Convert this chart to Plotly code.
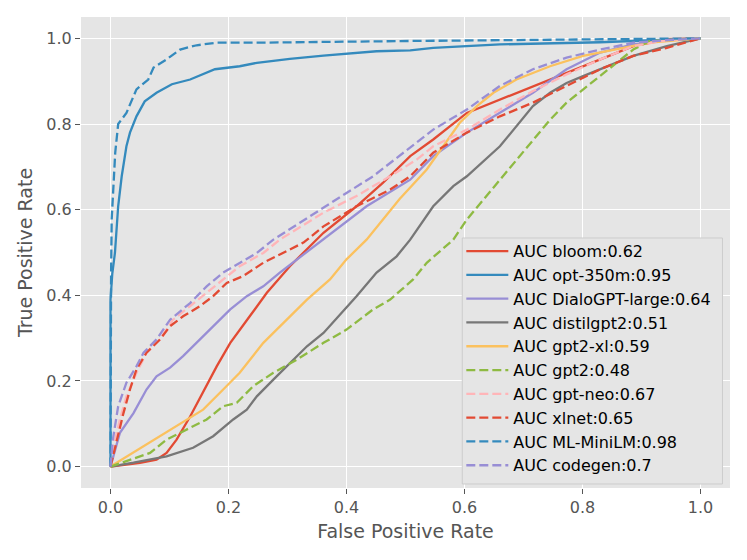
import plotly.graph_objects as go

# ROC curves (fpr, tpr)
names = ["bloom", "opt-350m", "DialoGPT-large", "distilgpt2", "gpt2-xl",
         "gpt2", "gpt-neo", "xlnet", "ML-MiniLM", "codegen"]
aucs = ["0.62", "0.95", "0.64", "0.51", "0.59", "0.48", "0.67", "0.65", "0.98", "0.7"]

bloom_fpr = [0, 0.05, 0.078, 0.095, 0.112, 0.129, 0.135, 0.18, 0.203, 0.236, 0.265, 0.304,
             0.361, 0.417, 0.462, 0.508, 0.547, 0.604, 0.66, 0.716, 0.773, 0.813, 0.886, 0.943, 1.0]
bloom_tpr = [0, 0.009, 0.016, 0.032, 0.063, 0.102, 0.117, 0.234, 0.289, 0.351, 0.406, 0.468,
             0.546, 0.608, 0.663, 0.725, 0.764, 0.826, 0.857, 0.889, 0.919, 0.943, 0.982, 0.998, 1.0]

opt_fpr = [0, 0, 0.003, 0.0076, 0.013, 0.019, 0.027, 0.033, 0.044, 0.058, 0.078, 0.104,
           0.135, 0.177, 0.219, 0.248, 0.304, 0.361, 0.451, 0.508, 0.547, 0.66, 0.83, 1.0]
opt_tpr = [0, 0.39, 0.45, 0.5, 0.608, 0.678, 0.748, 0.78, 0.818, 0.853, 0.873, 0.893,
           0.904, 0.928, 0.935, 0.943, 0.952, 0.96, 0.97, 0.972, 0.978, 0.986, 0.991, 1.0]

dialo_fpr = [0, 0.016, 0.039, 0.061, 0.078, 0.101, 0.123, 0.152, 0.18, 0.203, 0.231, 0.259,
             0.287, 0.316, 0.361, 0.434, 0.508, 0.547, 0.604, 0.66, 0.716, 0.773, 0.83, 0.886, 0.943, 1.0]
dialo_tpr = [0, 0.079, 0.125, 0.18, 0.211, 0.231, 0.258, 0.297, 0.336, 0.367, 0.398, 0.421,
             0.453, 0.484, 0.53, 0.608, 0.67, 0.725, 0.78, 0.826, 0.873, 0.928, 0.967, 0.986, 0.996, 1.0]

distil_fpr = [0, 0.039, 0.095, 0.14, 0.174, 0.208, 0.231, 0.248, 0.276, 0.304, 0.333, 0.361,
              0.395, 0.417, 0.451, 0.485, 0.508, 0.547, 0.581, 0.604, 0.66, 0.688, 0.716, 0.745,
              0.773, 0.801, 0.83, 0.886, 0.943, 1.0]
distil_tpr = [0, 0.009, 0.024, 0.044, 0.071, 0.11, 0.133, 0.164, 0.203, 0.242, 0.281, 0.312,
              0.363, 0.398, 0.453, 0.491, 0.53, 0.608, 0.655, 0.678, 0.748, 0.795, 0.842, 0.873,
              0.896, 0.912, 0.928, 0.959, 0.982, 1.0]

xl_fpr = [0, 0.05, 0.101, 0.129, 0.157, 0.191, 0.219, 0.259, 0.293, 0.333, 0.372, 0.4, 0.434,
          0.49, 0.536, 0.564, 0.592, 0.621, 0.649, 0.688, 0.745, 0.801, 0.858, 0.914, 1.0]
xl_tpr = [0, 0.043, 0.086, 0.11, 0.133, 0.18, 0.219, 0.289, 0.336, 0.39, 0.437, 0.484, 0.53,
          0.625, 0.694, 0.748, 0.803, 0.842, 0.873, 0.904, 0.935, 0.959, 0.974, 0.99, 1.0]

gpt2_fpr = [0, 0.033, 0.067, 0.095, 0.129, 0.163, 0.191, 0.214, 0.242, 0.276, 0.316, 0.361,
            0.4, 0.445, 0.474, 0.513, 0.536, 0.581, 0.604, 0.66, 0.716, 0.745, 0.773, 0.801,
            0.83, 0.858, 0.886, 0.914, 1.0]
gpt2_tpr = [0, 0.016, 0.032, 0.063, 0.086, 0.11, 0.141, 0.149, 0.188, 0.219, 0.25, 0.289,
            0.32, 0.367, 0.39, 0.437, 0.476, 0.53, 0.577, 0.67, 0.764, 0.81, 0.85, 0.881,
            0.912, 0.943, 0.974, 0.994, 1.0]

neo_fpr = [0, 0.005, 0.016, 0.027, 0.044, 0.061, 0.084, 0.106, 0.135, 0.163, 0.191, 0.219,
           0.259, 0.287, 0.361, 0.417, 0.474, 0.519, 0.547, 0.604, 0.66, 0.716, 0.773, 0.83,
           0.886, 0.943, 1.0]
neo_tpr = [0, 0.047, 0.11, 0.164, 0.219, 0.266, 0.297, 0.343, 0.375, 0.406, 0.437, 0.468,
           0.499, 0.53, 0.593, 0.632, 0.678, 0.717, 0.748, 0.787, 0.834, 0.877, 0.916, 0.951,
           0.982, 0.996, 1.0]

xlnet_fpr = [0, 0.0105, 0.022, 0.033, 0.044, 0.061, 0.084, 0.101, 0.123, 0.152, 0.174, 0.197,
             0.225, 0.259, 0.293, 0.327, 0.361, 0.417, 0.474, 0.508, 0.547, 0.604, 0.66, 0.716,
             0.773, 0.83, 0.886, 0.943, 1.0]
xlnet_tpr = [0, 0.063, 0.125, 0.18, 0.227, 0.266, 0.297, 0.328, 0.351, 0.375, 0.398, 0.429,
             0.445, 0.476, 0.499, 0.523, 0.561, 0.608, 0.647, 0.678, 0.733, 0.78, 0.818, 0.85,
             0.889, 0.928, 0.959, 0.978, 1.0]

mini_fpr = [0, 0, 0.001, 0.002, 0.008, 0.013, 0.027, 0.044, 0.064, 0.073, 0.095, 0.118,
            0.146, 0.18, 0.248, 0.508, 0.66, 1.0]
mini_tpr = [0, 0.3, 0.45, 0.577, 0.733, 0.8, 0.826, 0.881, 0.904, 0.932, 0.951, 0.974,
            0.984, 0.99, 0.99, 0.994, 0.996, 1.0]

codegen_fpr = [0, 0.004, 0.013, 0.027, 0.044, 0.056, 0.078, 0.101, 0.135, 0.163, 0.191, 0.219,
               0.248, 0.276, 0.349, 0.4, 0.445, 0.508, 0.547, 0.604, 0.66, 0.716, 0.773, 0.83,
               0.886, 0.943, 1.0]
codegen_tpr = [0, 0.063, 0.141, 0.196, 0.234, 0.266, 0.297, 0.343, 0.382, 0.421, 0.453, 0.476,
               0.499, 0.53, 0.593, 0.639, 0.678, 0.745, 0.787, 0.834, 0.889, 0.928, 0.955, 0.974,
               0.99, 0.996, 1.0]

curves = [(bloom_fpr, bloom_tpr), (opt_fpr, opt_tpr), (dialo_fpr, dialo_tpr),
          (distil_fpr, distil_tpr), (xl_fpr, xl_tpr), (gpt2_fpr, gpt2_tpr),
          (neo_fpr, neo_tpr), (xlnet_fpr, xlnet_tpr), (mini_fpr, mini_tpr),
          (codegen_fpr, codegen_tpr)]

# ggplot colour cycle
colors = ["#E24A33", "#348ABD", "#988ED5", "#777777", "#FBC15E",
          "#8EBA42", "#FFB5B8", "#E24A33", "#348ABD", "#988ED5"]

fig = go.Figure()
for i, (fx, ty) in enumerate(curves):
    fig.add_trace(go.Scatter(
        x=fx, y=ty, mode="lines",
        name=f"AUC {names[i]}:{aucs[i]}",
        line=dict(color=colors[i], width=2.3,
                  dash="solid" if i < 5 else "9px,4px"),
    ))

axis_style = dict(
    range=[-0.05, 1.05], tickvals=[0, 0.2, 0.4, 0.6, 0.8, 1.0], tickformat=".1f",
    showgrid=True, gridcolor="white", gridwidth=1.3, zeroline=False, showline=False,
    ticks="outside", ticklen=5, tickwidth=1, tickcolor="#555555",
    tickfont=dict(size=16, color="#555555"), automargin=False,
)

# legend frame drawn as a shape so it can be a bit wider than plotly's own box
fig.add_shape(type="rect", xref="paper", yref="paper",
              x0=0.5875, x1=0.9884, y0=0.0085, y1=0.5308,
              fillcolor="#E5E5E5", line=dict(color="#CCCCCC", width=1), layer="above")

# page body adds an 8px offset, so the figure is a bit smaller than the window
fig.update_layout(
    width=739, height=552,
    margin=dict(l=73, r=17, t=9, b=72),
    paper_bgcolor="white", plot_bgcolor="#E5E5E5",
    font=dict(family="DejaVu Sans", color="#555555"),
    xaxis=dict(title=dict(text="False Positive Rate", font=dict(size=19, color="#555555"),
                          standoff=8), **axis_style),
    yaxis=dict(title=dict(text="True Positive Rate", font=dict(size=19, color="#555555"),
                          standoff=8), **axis_style),
    legend=dict(x=0.586, y=0.0103, xanchor="left", yanchor="bottom",
                bgcolor="rgba(0,0,0,0)", borderwidth=0,
                font=dict(size=16, color="black"), itemwidth=42),
    showlegend=True,
)

fig.write_html("out.html")
